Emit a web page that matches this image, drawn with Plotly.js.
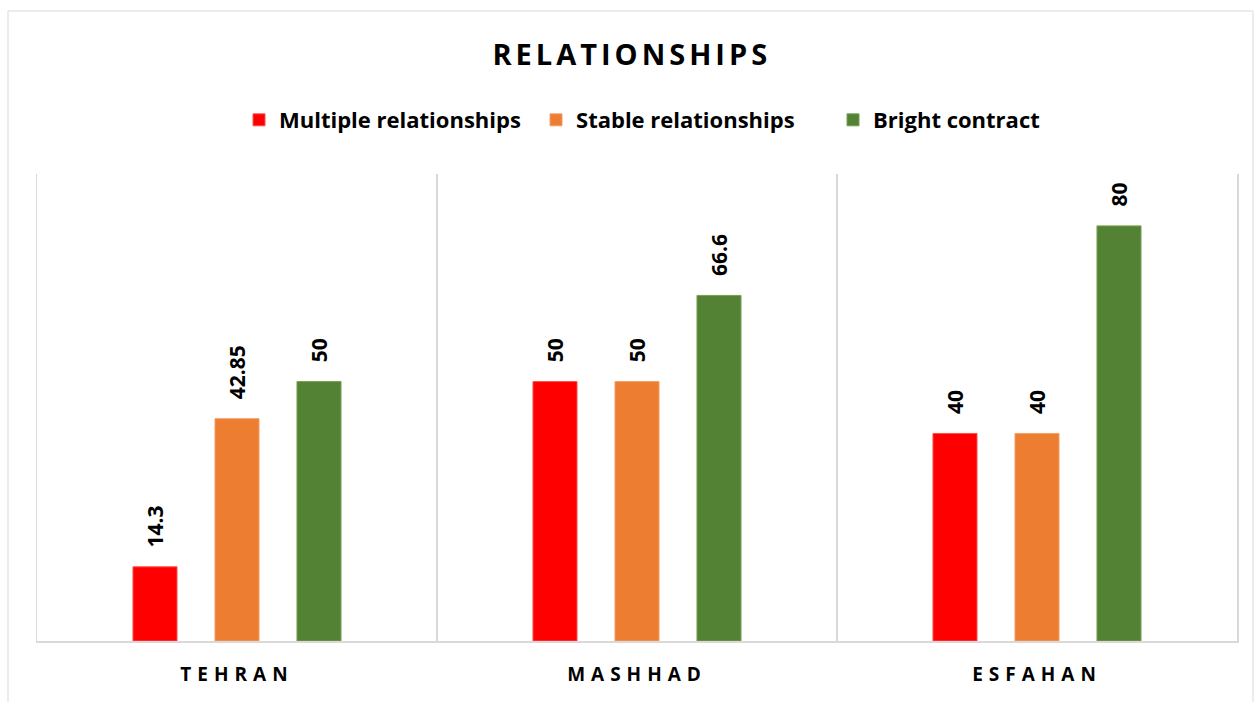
<!DOCTYPE html>
<html>
<head>
<meta charset="utf-8">
<script src="https://cdn.plot.ly/plotly-3.0.1.min.js"></script>
<style>
  body { margin: 0; background: #fff; }
  #plot { width: 1256px; height: 702px; }
</style>
</head>
<body>
<div id="plot"></div>
<script>
// Chart data
const cities = ["TEHRAN", "MASHHAD", "ESFAHAN"];
const seriesNames = ["Multiple relationships", "Stable relationships", "Bright contract"];
const multipleValues = [14.3, 50, 40];
const stableValues = [42.85, 50, 40];
const brightValues = [50, 66.6, 80];
const seriesColors = ["#FF0000", "#ED7D31", "#548235"];
const outlineColors = ["#FF5050", "#F4A06A", "#76A04F"];

const fontFamily = "'Open Sans', Lato, sans-serif";

function makeBar(name, values, color, outline) {
  return {
    type: "bar",
    name: name,
    x: cities,
    y: values,
    marker: { color: color, line: { color: outline, width: 1 } },
    text: values.map(v => String(v)),
    texttemplate: "\u00a0\u00a0\u00a0%{text}",
    textposition: "outside",
    textangle: -90,
    constraintext: "none",
    cliponaxis: false,
    textfont: { family: fontFamily, size: 21, weight: 700, color: "#000" },
    hoverinfo: "skip"
  };
}

const data = [
  makeBar(seriesNames[0], multipleValues, seriesColors[0], outlineColors[0]),
  makeBar(seriesNames[1], stableValues, seriesColors[1], outlineColors[1]),
  makeBar(seriesNames[2], brightValues, seriesColors[2], outlineColors[2])
];

const layout = {
  width: 1256,
  height: 702,
  margin: { l: 37, r: 19, t: 174, b: 61 },
  paper_bgcolor: "#fff",
  plot_bgcolor: "#fff",
  barmode: "group",
  bargap: 0.385,
  bargroupgap: 0.463,
  title: {
    text: "RELATIONSHIPS",
    font: { family: fontFamily, size: 29, weight: 700, color: "#000" },
    x: 0.503,
    xanchor: "center",
    y: 1 - 55 / 702,
    yanchor: "middle",
    yref: "container"
  },
  showlegend: true,
  legend: {
    orientation: "h",
    x: 0.5396,
    xanchor: "center",
    y: 1.1156,
    yanchor: "middle",
    entrywidth: 252,
    entrywidthmode: "pixels",
    font: { family: fontFamily, size: 22, weight: 700, color: "#000" },
    itemclick: false,
    itemdoubleclick: false
  },
  xaxis: {
    type: "category",
    tickson: "boundaries",
    ticks: "",
    showgrid: true,
    gridcolor: "#d9d9d9",
    gridwidth: 1.5,
    showline: true,
    linecolor: "#d9d9d9",
    linewidth: 2,
    tickfont: { family: fontFamily, size: 19, weight: 700, color: "#000" },
    ticklabelstandoff: 15,
    fixedrange: true
  },
  yaxis: {
    range: [0, 90],
    showticklabels: false,
    showgrid: false,
    zeroline: false,
    ticks: "",
    showline: true,
    mirror: true,
    linecolor: "#d9d9d9",
    linewidth: 1.5,
    fixedrange: true
  },
  shapes: [{
    type: "rect",
    xref: "paper",
    yref: "paper",
    x0: (8 - 37) / 1200,
    x1: (1253 - 37) / 1200,
    y0: -0.16,
    y1: (641 - 11) / 467,
    line: { color: "#d9d9d9", width: 1 },
    layer: "below"
  }]
};

Plotly.newPlot("plot", data, layout, { displayModeBar: false, staticPlot: true }).then(gd => {
  const title = gd.querySelector(".gtitle");
  if (title) title.style.letterSpacing = "4px";
  gd.querySelectorAll(".xtick text").forEach(t => { t.style.letterSpacing = "6px"; });
});
</script>
</body>
</html>
